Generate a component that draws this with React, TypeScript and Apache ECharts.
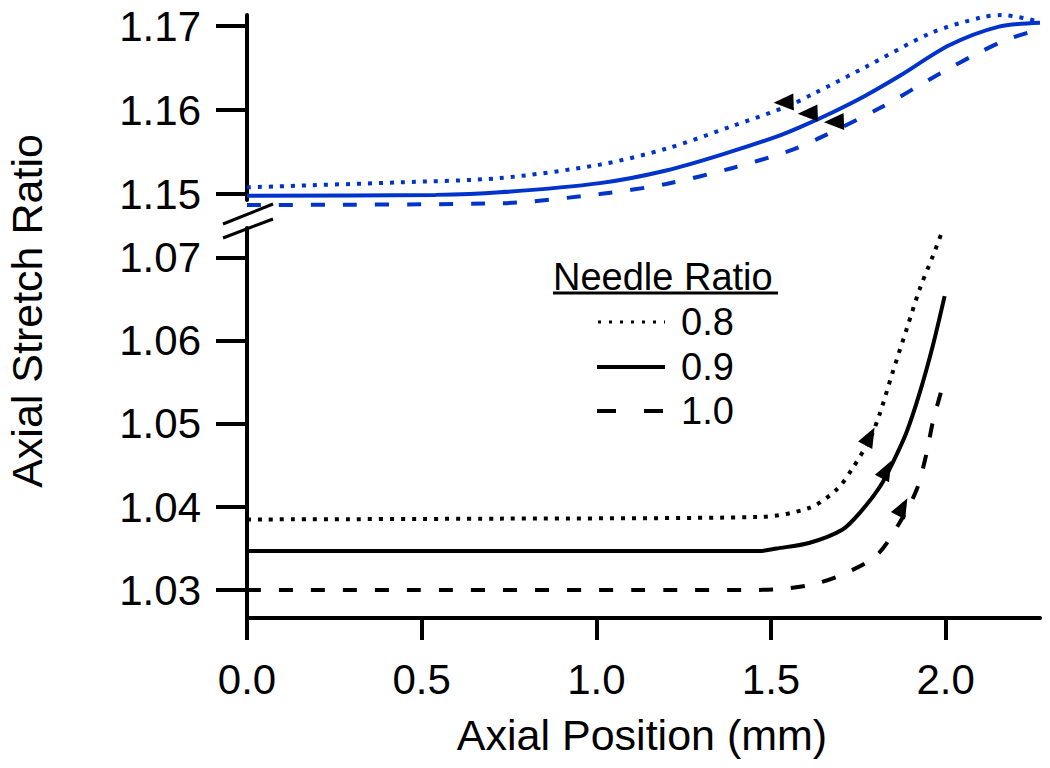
import React, { useEffect, useRef } from "react";
import * as echarts from "echarts";

const xMin = 0;
const xMax = 2.27;
const xTicks = [0, 0.5, 1.0, 1.5, 2.0];
const upperTicks = [1.15, 1.16, 1.17];
const lowerTicks = [1.03, 1.04, 1.05, 1.06, 1.07];
const upperRange = [1.14929, 1.17131];
const lowerRange = [1.02663, 1.07361];

const seriesNames = ["0.8", "0.9", "1.0"];

const upper08 = [[0, 1.1508], [0.44, 1.1514], [0.724, 1.1519], [1.01, 1.1535], [1.2, 1.1554], [1.39, 1.1581], [1.55, 1.1605], [1.62, 1.1619], [1.77, 1.1651], [1.96, 1.1692], [2.1, 1.171], [2.16, 1.1713], [2.27, 1.1705]];
const upper09 = [[0, 1.1498], [0.54, 1.1499], [0.724, 1.1502], [1.01, 1.1513], [1.2, 1.1528], [1.39, 1.1551], [1.52, 1.1569], [1.58, 1.1579], [1.68, 1.1598], [1.77, 1.1617], [1.87, 1.1641], [2.01, 1.1677], [2.15, 1.1699], [2.27, 1.1704]];
const upper10 = [[0, 1.1487], [0.724, 1.1489], [1.01, 1.15], [1.2, 1.1512], [1.39, 1.1531], [1.55, 1.1551], [1.63, 1.1565], [1.81, 1.1602], [1.99, 1.1645], [2.08, 1.1665], [2.17, 1.1683], [2.26, 1.1695]];

const lower08 = [[0, 1.0385], [0.724, 1.0386], [1.468, 1.0388], [1.61, 1.0399], [1.688, 1.0421], [1.734, 1.0447], [1.783, 1.0482], [1.811, 1.0512], [1.848, 1.0562], [1.888, 1.0614], [1.926, 1.0663], [1.963, 1.0702], [1.991, 1.0733]];
const lower09 = [[0, 1.0347], [1.468, 1.0347], [1.516, 1.035], [1.611, 1.0357], [1.705, 1.0373], [1.754, 1.0393], [1.811, 1.0424], [1.848, 1.0453], [1.888, 1.049], [1.926, 1.0538], [1.963, 1.0594], [1.997, 1.0654]];
const lower10 = [[0, 1.03], [1.44, 1.03], [1.545, 1.0302], [1.631, 1.0308], [1.717, 1.0321], [1.803, 1.0342], [1.868, 1.0381], [1.917, 1.0421], [1.946, 1.0466], [1.963, 1.0502], [1.989, 1.0542]];

const upperArrows = [[1.536, 1.1609], [1.605, 1.1596], [1.68, 1.1586]];
const lowerArrows = [[1.783, 1.0485], [1.831, 1.0445], [1.877, 1.04]];

const FONT = "'Liberation Sans', Arial, sans-serif";
const BLUE = "#0033cc";
const DOT = [4, 7];
const DASH = [14, 18];

export default function App() {
  const ref = useRef<HTMLDivElement>(null);
  useEffect(() => {
    if (!ref.current) return;
    const chart = echarts.init(ref.current, null, { renderer: "svg" });

    const lineSeries = (data: number[][], idx: number, color: string, type: any, width: number, name: string) => ({
      type: "line",
      name,
      xAxisIndex: idx,
      yAxisIndex: idx,
      data,
      smooth: 0.3,
      showSymbol: false,
      clip: false,
      lineStyle: { color, width, type },
      z: 3,
    });

    const yAxisCommon = (grid: number, range: number[], ticks: number[]) => ({
      type: "value",
      gridIndex: grid,
      min: range[0],
      max: range[1],
      axisLine: { show: true, lineStyle: { color: "#000", width: 4 } },
      axisTick: { show: true, length: 31, lineStyle: { color: "#000", width: 4 }, customValues: ticks },
      axisLabel: {
        show: true,
        customValues: ticks,
        margin: 46,
        fontSize: 42,
        fontFamily: FONT,
        color: "#000",
        formatter: (v: number) => v.toFixed(2),
      },
      splitLine: { show: false },
    });

    const option: any = {
      animation: false,
      backgroundColor: "#fff",
      grid: [
        { left: 247, right: 10, top: 15, height: 185 },
        { left: 247, right: 10, top: 228, height: 390 },
      ],
      xAxis: [
        { type: "value", gridIndex: 0, min: xMin, max: xMax, show: false },
        {
          type: "value",
          gridIndex: 1,
          min: xMin,
          max: xMax,
          axisLine: { show: true, onZero: false, lineStyle: { color: "#000", width: 4 } },
          axisTick: { show: true, length: 22, lineStyle: { color: "#000", width: 4 }, customValues: xTicks },
          axisLabel: {
            show: true,
            customValues: xTicks,
            margin: 40,
            fontSize: 42,
            fontFamily: FONT,
            color: "#000",
            formatter: (v: number) => v.toFixed(1),
          },
          splitLine: { show: false },
        },
      ],
      yAxis: [yAxisCommon(0, upperRange, upperTicks), yAxisCommon(1, lowerRange, lowerTicks)],
      series: [
        lineSeries(upper08, 0, BLUE, DOT, 4, seriesNames[0]),
        lineSeries(upper09, 0, BLUE, "solid", 4, seriesNames[1]),
        lineSeries(upper10, 0, BLUE, DASH, 4, seriesNames[2]),
        lineSeries(lower08, 1, "#000", DOT, 4, seriesNames[0]),
        lineSeries(lower09, 1, "#000", "solid", 4, seriesNames[1]),
        lineSeries(lower10, 1, "#000", DASH, 4, seriesNames[2]),
        {
          type: "scatter",
          xAxisIndex: 0,
          yAxisIndex: 0,
          symbol: "triangle",
          symbolSize: [17, 20],
          symbolRotate: 92,
          itemStyle: { color: "#000", opacity: 1 },
          data: upperArrows,
          clip: false,
          z: 5,
        },
        {
          type: "scatter",
          xAxisIndex: 1,
          yAxisIndex: 1,
          symbol: "triangle",
          symbolSize: [16, 20],
          symbolRotate: -28,
          itemStyle: { color: "#000", opacity: 1 },
          data: lowerArrows,
          clip: false,
          z: 5,
        },
      ],
      graphic: [
        { type: "line", shape: { x1: 223, y1: 224, x2: 273, y2: 204 }, style: { stroke: "#000", lineWidth: 3 }, z: 10 },
        { type: "line", shape: { x1: 223, y1: 238, x2: 273, y2: 219 }, style: { stroke: "#000", lineWidth: 3 }, z: 10 },
        {
          type: "text",
          x: 27,
          y: 311,
          rotation: Math.PI / 2,
          style: { text: "Axial Stretch Ratio", font: `43px ${FONT}`, fill: "#000", align: "center", verticalAlign: "middle" },
        },
        {
          type: "text",
          x: 642,
          y: 735,
          style: { text: "Axial Position (mm)", font: `43px ${FONT}`, fill: "#000", align: "center", verticalAlign: "middle" },
        },
        {
          type: "text",
          x: 553,
          y: 277,
          style: { text: "Needle Ratio", font: `38px ${FONT}`, fill: "#000", align: "left", verticalAlign: "middle" },
        },
        { type: "line", shape: { x1: 553, y1: 293, x2: 778, y2: 293 }, style: { stroke: "#000", lineWidth: 3 } },
        { type: "line", shape: { x1: 598, y1: 322, x2: 665, y2: 322 }, style: { stroke: "#000", lineWidth: 3, lineDash: [3, 8] } },
        { type: "line", shape: { x1: 597, y1: 367, x2: 665, y2: 367 }, style: { stroke: "#000", lineWidth: 4 } },
        { type: "line", shape: { x1: 597, y1: 411, x2: 665, y2: 411 }, style: { stroke: "#000", lineWidth: 4, lineDash: [19, 28] } },
        { type: "text", x: 681, y: 322, style: { text: seriesNames[0], font: `38px ${FONT}`, fill: "#000", align: "left", verticalAlign: "middle" } },
        { type: "text", x: 681, y: 367, style: { text: seriesNames[1], font: `38px ${FONT}`, fill: "#000", align: "left", verticalAlign: "middle" } },
        { type: "text", x: 681, y: 411, style: { text: seriesNames[2], font: `38px ${FONT}`, fill: "#000", align: "left", verticalAlign: "middle" } },
      ],
    };
    chart.setOption(option);
    return () => chart.dispose();
  }, []);
  return <div ref={ref} style={{ position: "fixed", left: 0, top: 0, width: 1050, height: 768 }} />;
}
